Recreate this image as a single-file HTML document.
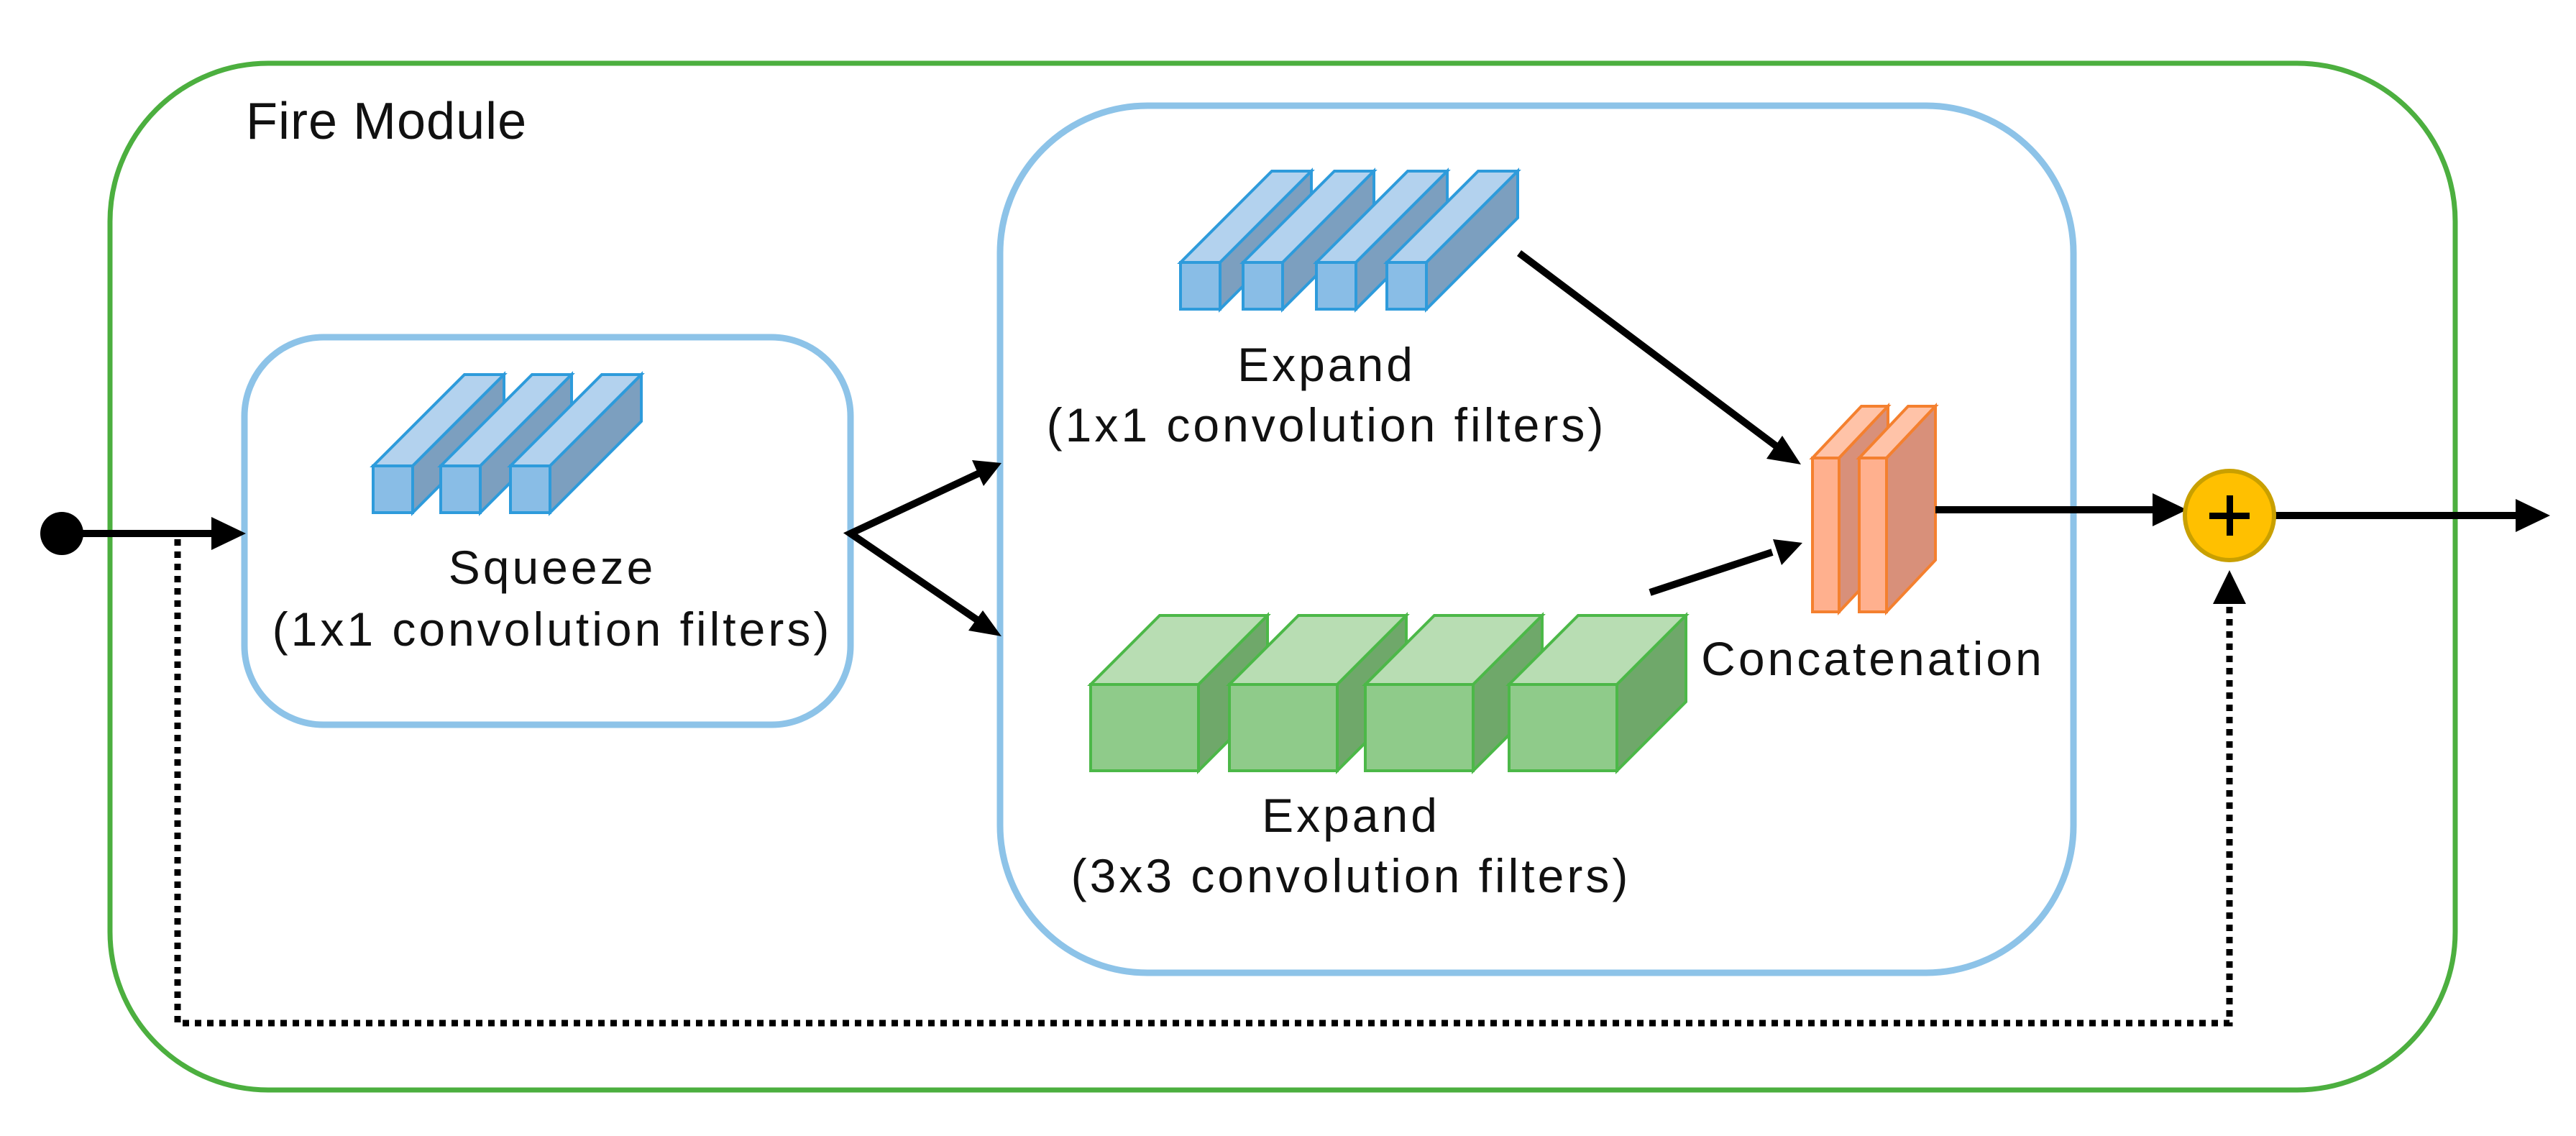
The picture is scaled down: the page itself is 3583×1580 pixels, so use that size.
<!DOCTYPE html>
<html><head><meta charset="utf-8"><style>html,body{margin:0;padding:0;background:#fff}svg{display:block}</style></head>
<body>
<svg width="3583" height="1580" viewBox="0 0 3583 1580" xmlns="http://www.w3.org/2000/svg" font-family="Liberation Sans, sans-serif">
<rect width="3583" height="1580" fill="#fff"/>
<rect x="153" y="88" width="3262" height="1428" rx="220" ry="220" fill="none" stroke="#4CAF3F" stroke-width="7"/>
<text x="342" y="193" font-size="72" letter-spacing="1" fill="#111">Fire Module</text>
<rect x="340" y="469" width="843" height="539" rx="110" fill="none" stroke="#8DC3E8" stroke-width="9"/>
<rect x="1391" y="147" width="1493" height="1206" rx="205" fill="none" stroke="#8DC3E8" stroke-width="9"/>

<g stroke="#2E9BDB" stroke-width="4">
 <polygon points="519,648 646,521 701,521 574,648" fill="#B3D2EE"/><polygon points="574,648 701,521 701,586 574,713" fill="#7C9FBF"/><rect x="519" y="648" width="55" height="65" fill="#89BDE6"/>
 <polygon points="613,648 740,521 795,521 668,648" fill="#B3D2EE"/><polygon points="668,648 795,521 795,586 668,713" fill="#7C9FBF"/><rect x="613" y="648" width="55" height="65" fill="#89BDE6"/>
 <polygon points="710,648 837,521 892,521 765,648" fill="#B3D2EE"/><polygon points="765,648 892,521 892,586 765,713" fill="#7C9FBF"/><rect x="710" y="648" width="55" height="65" fill="#89BDE6"/>
 <polygon points="1642,365 1769,238 1824,238 1697,365" fill="#B3D2EE"/><polygon points="1697,365 1824,238 1824,303 1697,430" fill="#7C9FBF"/><rect x="1642" y="365" width="55" height="65" fill="#89BDE6"/>
 <polygon points="1729,365 1856,238 1911,238 1784,365" fill="#B3D2EE"/><polygon points="1784,365 1911,238 1911,303 1784,430" fill="#7C9FBF"/><rect x="1729" y="365" width="55" height="65" fill="#89BDE6"/>
 <polygon points="1831,365 1958,238 2013,238 1886,365" fill="#B3D2EE"/><polygon points="1886,365 2013,238 2013,303 1886,430" fill="#7C9FBF"/><rect x="1831" y="365" width="55" height="65" fill="#89BDE6"/>
 <polygon points="1929,365 2056,238 2111,238 1984,365" fill="#B3D2EE"/><polygon points="1984,365 2111,238 2111,303 1984,430" fill="#7C9FBF"/><rect x="1929" y="365" width="55" height="65" fill="#89BDE6"/>
</g>
<g stroke="#4CB848" stroke-width="4">
 <polygon points="1517,952 1613,856 1763,856 1667,952" fill="#B8DDB3"/><polygon points="1667,952 1763,856 1763,976 1667,1072" fill="#6FA86A"/><rect x="1517" y="952" width="150" height="120" fill="#8FCB8A"/>
 <polygon points="1710,952 1806,856 1956,856 1860,952" fill="#B8DDB3"/><polygon points="1860,952 1956,856 1956,976 1860,1072" fill="#6FA86A"/><rect x="1710" y="952" width="150" height="120" fill="#8FCB8A"/>
 <polygon points="1899,952 1995,856 2145,856 2049,952" fill="#B8DDB3"/><polygon points="2049,952 2145,856 2145,976 2049,1072" fill="#6FA86A"/><rect x="1899" y="952" width="150" height="120" fill="#8FCB8A"/>
 <polygon points="2099,952 2195,856 2345,856 2249,952" fill="#B8DDB3"/><polygon points="2249,952 2345,856 2345,976 2249,1072" fill="#6FA86A"/><rect x="2099" y="952" width="150" height="120" fill="#8FCB8A"/>
</g>
<g stroke="#F4802F" stroke-width="4">
 <polygon points="2521,637 2589,565 2626,565 2558,637" fill="#FFC3A8"/><polygon points="2558,637 2626,565 2626,779 2558,851" fill="#D8907A"/><rect x="2521" y="637" width="37" height="214" fill="#FFB08E"/>
 <polygon points="2586,637 2654,565 2692,565 2624,637" fill="#FFC3A8"/><polygon points="2624,637 2692,565 2692,779 2624,851" fill="#D8907A"/><rect x="2586" y="637" width="38" height="214" fill="#FFB08E"/>
</g>

<g font-size="66" letter-spacing="4" fill="#111" text-anchor="middle">
<text x="768" y="812">Squeeze</text>
<text x="768" y="898">(1x1 convolution filters)</text>
<text x="1845" y="530">Expand</text>
<text x="1845" y="614">(1x1 convolution filters)</text>
<text x="1879" y="1157">Expand</text>
<text x="1879" y="1241">(3x3 convolution filters)</text>
<text x="2605" y="939">Concatenation</text>
</g>

<g stroke="#000" stroke-width="10" fill="none">
<line x1="86" y1="742" x2="300" y2="742"/>
<polyline points="1375,652 1183,742 1375,873"/>
<line x1="2113" y1="352" x2="2470" y2="620"/>
<line x1="2295" y1="824" x2="2465" y2="768"/>
<line x1="2692" y1="709" x2="3000" y2="709"/>
<line x1="3165" y1="717" x2="3505" y2="717"/>
</g>
<g stroke="#000" stroke-width="9" fill="none" stroke-dasharray="9 8">
<polyline points="247,750 247,1423 3101,1423 3101,835"/>
</g>
<circle cx="86" cy="742" r="30" fill="#000"/>
<g fill="#000">
<polygon points="342,742 294,719 294,765"/>
<polygon points="1393,644 1352,640 1368,676"/>
<polygon points="1393,885 1347,877 1367,849"/>
<polygon points="2505,646 2457,638 2479,606"/>
<polygon points="2507,755 2478,786 2466,750"/>
<polygon points="3042,709 2994,686 2994,732"/>
<polygon points="3547,717 3499,694 3499,740"/>
<polygon points="3101,793 3078,840 3124,840"/>
</g>
<circle cx="3101" cy="717" r="62" fill="#FFC000" stroke="#C9A000" stroke-width="6"/>
<rect x="3073" y="713" width="56" height="9" fill="#000"/>
<rect x="3097" y="689" width="9" height="56" fill="#000"/>
</svg>
</body></html>
